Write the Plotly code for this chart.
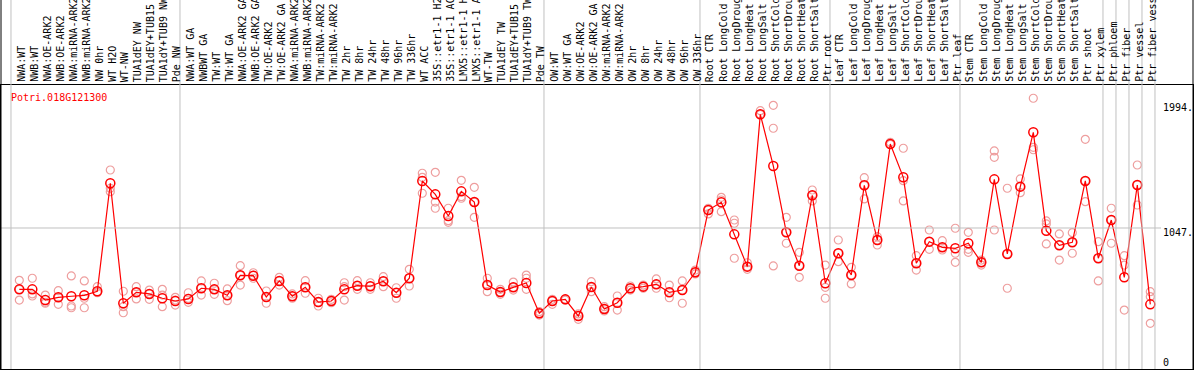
import plotly.graph_objects as go

gene = "Potri.018G121300"

categories = [
    "NWA:WT", "NWB:WT", "NWA:OE-ARK2", "NWB:OE-ARK2", "NWA:miRNA-ARK2", "NWB:miRNA-ARK2",
    "NW 0hr", "WT H2O", "WT-NW", "TUA1dEY NW", "TUA1dEY+TUB15 NW", "TUA1dY+TUB9 NW", "Pde NW",
    "NWA:WT GA", "NWBWT GA", "TW:WT", "TW:WT GA", "NWA:OE-ARK2 GA", "NWB:OE-ARK2 GA",
    "TW:OE-ARK2", "TW:OE-ARK2 GA", "NWA:miRNA-ARK2", "NWB:miRNA-ARK2", "TW:miRNA-ARK2",
    "TW:miRNA-ARK2", "TW 2hr", "TW 8hr", "TW 24hr", "TW 48hr", "TW 96hr", "TW 336hr",
    "WT ACC", "35S::etr1-1 H2O", "35S::etr1-1 ACC", "LMX5::etr1-1 H2O", "LMX5::etr1-1 ACC",
    "WT-TW", "TUA1dEY TW", "TUA1dEY+TUB15 TW", "TUA1dY+TUB9 TW", "Pde TW",
    "OW:WT", "OW:WT GA", "OW:OE-ARK2", "OW:OE-ARK2 GA", "OW:miRNA-ARK2", "OW:miRNA-ARK2",
    "OW 2hr", "OW 8hr", "OW 24hr", "OW 48hr", "OW 96hr", "OW 336hr",
    "Root CTR", "Root LongCold", "Root LongDrought", "Root LongHeat", "Root LongSalt",
    "Root ShortCold", "Root ShortDrought", "Root ShortHeat", "Root ShortSalt", "Ptr root",
    "Leaf CTR", "Leaf LongCold", "Leaf LongDrought", "Leaf LongHeat", "Leaf LongSalt",
    "Leaf ShortCold", "Leaf ShortDrought", "Leaf ShortHeat", "Leaf ShortSalt", "Ptr leaf",
    "Stem CTR", "Stem LongCold", "Stem LongDrought", "Stem LongHeat", "Stem LongSalt",
    "Stem ShortCold", "Stem ShortDrought", "Stem ShortHeat", "Stem ShortSalt", "Ptr shoot",
    "Ptr xylem", "Ptr phloem", "Ptr fiber", "Ptr vessel", "Ptr fiber vessel",
]

group_sizes = [13, 28, 12, 10, 10, 11, 1, 1, 1, 1]

mean_values = [
    593, 593, 514, 534, 542, 549, 579, 1378, 490, 571, 559, 527, 507,
    522, 601, 593, 549, 697, 694, 536, 655, 542, 608, 499, 507, 593, 620, 616, 653, 568, 675,
    1395, 1296, 1136, 1318, 1239, 625, 573, 608, 640, 416,
    507, 519, 396, 610, 448, 494, 601, 613, 630, 571, 588, 719,
    1180, 1237, 1000, 761, 1888, 1506, 1015, 768, 1289, 638,
    860, 699, 1363, 958, 1668, 1422, 786, 946, 904, 897,
    934, 793, 1407, 855, 1353, 1755, 1027, 919, 941, 1395, 823,
    1106, 682, 1365, 482,
]

rep1 = [
    660, 675, 551, 583, 692, 655, 613, 1476, 579, 613, 588, 593, 534,
    568, 655, 638, 596, 768, 716, 581, 682, 559, 657, 527, 519, 642, 657, 642, 687, 605, 741,
    1452, 1459, 1193, 1400, 1348, 675, 593, 647, 699, 428,
    519, 519, 411, 650, 465, 544, 618, 625, 670, 625, 655, 736,
    1193, 1274, 1106, 790, 1915, 1955, 1126, 867, 1328, 773,
    958, 756, 1419, 983, 1681, 1637, 842, 1032, 953, 1045,
    1015, 810, 1617, 1341, 1410, 2007, 1099, 1003, 1012, 1703, 946,
    1193, 842, 1513, 576,
]

rep2 = [
    593, 559, 490, 482, 470, 527, 573, 1341, 465, 522, 519, 551, 477,
    497, 551, 556, 509, 625, 675, 490, 625, 527, 564, 470, 494, 514, 593, 593, 613, 527, 618,
    1422, 1239, 1101, 1267, 1126, 576, 556, 588, 593, 403,
    482, 514, 371, 576, 433, 440, 588, 601, 601, 531, 490, 707,
    1151, 1168, 1082, 741, 1888, 1785, 934, 682, 1247, 608,
    798, 633, 1262, 921, 1666, 1397, 736, 889, 884, 860,
    889, 773, 1570, 601, 1308, 1644, 1077, 810, 860, 1242, 655,
    934, 773, 1217, 539,
]

rep3 = [
    514, 544, 497, 534, 457, 457, 568, 1316, 420, 571, 559, 465, 514,
    527, 601, 593, 549, 697, 697, 536, 655, 542, 608, 499, 507, 613, 620, 618, 653, 568, 675,
    1304, 1193, 1089, 1279, 1239, 625, 573, 608, 675, 416,
    507, 519, 396, 610, 448, 494, 601, 613, 630, 571, 588, 719,
    1180, 1254, 823, 761, 1888, 766, 1015, 768, 1289, 527,
    860, 699, 1363, 958, 1668, 1247, 786, 946, 904, 793,
    867, 793, 1032, 855, 1353, 1626, 929, 919, 941, 1395, 823,
    1106, 440, 1365, 342,
]

axis_marks = [0, 1047, 1994]
axis_mark_text = ["0", "1047.", "1994."]

# ---------------------------------------------------------------- layout
W, H = 1194, 370
ML, MR, MT, MB = 1, 1, 85, 1
PW, PH = W - ML - MR, H - MT - MB
X0_PX, DX_PX = 19.3, 13.0
x_min = (ML - X0_PX) / DX_PX
x_max = x_min + PW / DX_PX
V_PER_PX = 7.399
y_min = 0.5 * V_PER_PX
y_max = y_min + PH * V_PER_PX


def px_to_xp(px):
    return (px - ML) / PW


def py_to_yp(py):
    return (H - MB - py) / PH


n = len(categories)
xs = list(range(n))
mono = "DejaVu Sans Mono"

fig = go.Figure()
rep_style = dict(symbol="circle-open", size=8, color="#EE9E9E", line=dict(width=1.2, color="#EE9E9E"))
for rep in (rep1, rep2, rep3):
    fig.add_trace(go.Scatter(x=xs, y=rep, mode="markers", marker=rep_style,
                             showlegend=False, hoverinfo="skip", cliponaxis=False))

fig.add_trace(go.Scatter(
    x=xs, y=mean_values, mode="lines+markers",
    line=dict(color="#FF0000", width=1.2),
    marker=dict(symbol="circle-open", size=9, color="#FF0000", line=dict(width=1.5, color="#E00000")),
    showlegend=False, cliponaxis=False,
))

shapes = []
b = -0.5
bounds = [b]
for g in group_sizes:
    b += g
    bounds.append(b)
for bd in bounds:
    shapes.append(dict(type="line", xref="x", yref="paper", x0=bd - 0.14, x1=bd - 0.14,
                       y0=0, y1=py_to_yp(0), line=dict(color="#C0C0C0", width=1)))
shapes.append(dict(type="line", xref="paper", yref="y", x0=0, x1=px_to_xp(1161),
                   y0=axis_marks[1], y1=axis_marks[1], line=dict(color="#C0C0C0", width=1)))
for xp in (0, 1):
    shapes.append(dict(type="line", xref="paper", yref="paper", x0=xp, x1=xp,
                       y0=0, y1=py_to_yp(0), line=dict(color="black", width=1)))

annotations = []
for i, c in enumerate(categories):
    annotations.append(dict(x=i, xref="x", y=py_to_yp(83), yref="paper", text=c,
                            textangle=-90, showarrow=False, xanchor="center", yanchor="bottom",
                            xshift=1.5, borderpad=0,
                            font=dict(family=mono, size=10, color="black")))
annotations.append(dict(x=px_to_xp(10), y=py_to_yp(97), xref="paper", yref="paper", text=gene,
                        showarrow=False, xanchor="left", yanchor="middle", borderpad=0,
                        font=dict(family=mono, size=10, color="#FF0000")))
for t, py in zip(axis_mark_text, (362, 232, 107)):
    annotations.append(dict(x=px_to_xp(1162), y=py_to_yp(py), xref="paper", yref="paper", text=t,
                            showarrow=False, xanchor="left", yanchor="middle", borderpad=0,
                            font=dict(family=mono, size=10, color="black")))

fig.update_layout(
    width=W, height=H, margin=dict(l=ML, r=MR, t=MT, b=MB, pad=0),
    paper_bgcolor="white", plot_bgcolor="white",
    shapes=shapes, annotations=annotations, showlegend=False,
    xaxis=dict(range=[x_min, x_max], showgrid=False, zeroline=False, showticklabels=False,
               ticks="", showline=True, mirror=True, linecolor="black", linewidth=1),
    yaxis=dict(range=[y_min, y_max], showgrid=False, zeroline=False, showticklabels=False,
               ticks="", showline=True, mirror=True, linecolor="black", linewidth=1),
)

fig.write_html(
    "out.html",
    config={"displayModeBar": False},
    post_script="document.body.style.margin='0';document.body.style.overflow='hidden';",
)
